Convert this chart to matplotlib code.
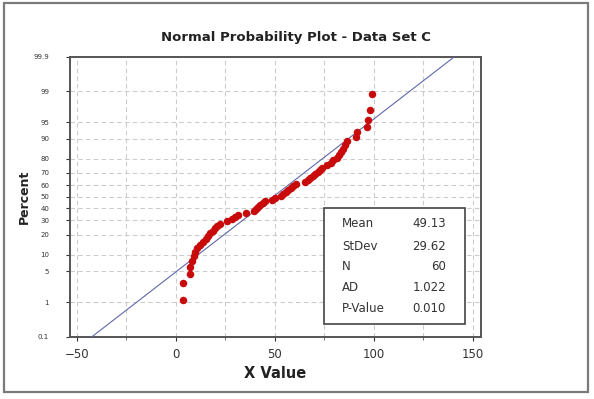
from statistics import NormalDist
import numpy as np
import matplotlib
matplotlib.use('Agg')
import matplotlib.pyplot as plt
from matplotlib.patches import Rectangle

x_values = [3.7, 3.7, 7.1, 7.2, 7.9, 8.9, 9.8, 10.8, 12.3, 13.6,
            15.0, 16.2, 17.3, 18.5, 19.7, 20.9, 22.2, 25.6, 28.1, 29.8,
            31.1, 35.2, 39.4, 40.4, 41.2, 42.4, 43.8, 45.0, 48.3, 50.0,
            52.9, 54.2, 55.4, 56.7, 57.9, 59.3, 60.4, 65.2, 66.5, 67.8,
            69.0, 70.3, 71.6, 73.0, 74.0, 76.5, 78.3, 79.5, 81.2, 82.3,
            83.3, 84.5, 85.4, 86.2, 90.9, 91.6, 96.3, 97.1, 98.0, 98.8]
# plotted percent (median ranks)
percents = [1.16, 2.81, 4.47, 6.13, 7.78, 9.44, 11.09, 12.75, 14.40, 16.06,
            17.72, 19.37, 21.03, 22.68, 24.34, 25.99, 27.65, 29.30, 30.96, 32.62,
            34.27, 35.93, 37.58, 39.24, 40.89, 42.55, 44.21, 45.86, 47.52, 49.17,
            50.83, 52.48, 54.14, 55.79, 57.45, 59.11, 60.76, 62.42, 64.07, 65.73,
            67.38, 69.04, 70.70, 72.35, 74.01, 75.66, 77.32, 78.97, 80.63, 82.28,
            83.94, 85.60, 87.25, 88.91, 90.56, 92.22, 93.87, 95.53, 97.19, 98.84]

stat_names = ['Mean', 'StDev', 'N', 'AD', 'P-Value']
stat_values = ['49.13', '29.62', '60', '1.022', '0.010']
fit_mean = 49.13
fit_sd = 29.62

y_ticks = [0.1, 1, 5, 10, 20, 30, 40, 50, 60, 70, 80, 90, 95, 99, 99.9]
y_tick_labels = ['0.1', '1', '5', '10', '20', '30', '40', '50', '60', '70',
                 '80', '90', '95', '99', '99.9']
x_ticks = [-50, 0, 50, 100, 150]
x_minor = [-25, 25, 75, 125]

nd = NormalDist()


def fwd(p):
    p = np.clip(np.asarray(p, dtype=float) / 100.0, 1e-9, 1 - 1e-9)
    return np.vectorize(nd.inv_cdf, otypes=[float])(p)


def inv(z):
    return np.vectorize(nd.cdf, otypes=[float])(np.asarray(z, dtype=float)) * 100.0


W, H = 594, 399
fig = plt.figure(figsize=(W / 100, H / 100), dpi=100)
fig.patch.set_facecolor('white')
# outer frame
fig.patches.append(Rectangle((4 / W, 1 - 392 / H), 584 / W, 389 / H, transform=fig.transFigure,
                             fill=False, edgecolor='#7a7a7a', lw=1.6))

ax = fig.add_axes([70 / W, 1 - 336.7 / H, 410.5 / W, 280 / H])
ax.set_yscale('function', functions=(fwd, inv))
ax.set_ylim(0.1, 99.9)
ax.set_xlim(-53.5, 153.8)

line_pct = np.array([0.1, 99.9])
line_x = fit_mean + fit_sd * fwd(line_pct)
ax.plot(line_x, line_pct, color='#6068a8', lw=0.8, zorder=3)
ax.plot(x_values, percents, 'o', color='#c80a0a', ms=5.4, mec='none', zorder=4)

ax.set_xticks(x_ticks)
ax.set_xticks(x_minor, minor=True)
ax.set_yticks(y_ticks)
ax.set_yticklabels(y_tick_labels)
ax.yaxis.set_minor_locator(matplotlib.ticker.NullLocator())
ax.tick_params(axis='x', which='major', labelsize=8.5, length=3, width=0.8, colors='#333333', pad=5)
ax.tick_params(axis='x', which='minor', length=2, width=0.6, colors='#555555')
ax.tick_params(axis='y', labelsize=5, length=3, width=0.8, colors='#333333', pad=12)

ax.grid(which='both', axis='x', ls=(0, (4, 3)), color='#cccccc', lw=0.8)
ax.grid(which='major', axis='y', ls=(0, (4, 3)), color='#cccccc', lw=0.8)
ax.set_axisbelow(True)
for s in ax.spines.values():
    s.set_color('#555555')
    s.set_linewidth(1.4)

ax.set_xlabel('X Value', fontsize=10.5, fontweight='bold', color='#222222', labelpad=4)
ax.set_ylabel('Percent', fontsize=9, fontweight='bold', color='#222222')
ax.yaxis.set_label_coords(-0.095, 0.5)
fig.text(296 / W, 1 - 37 / H, 'Normal Probability Plot - Data Set C', ha='center', va='center',
         fontsize=9.5, fontweight='bold', color='#222222')

# stats box
fig.patches.append(Rectangle((324 / W, 1 - 324 / H), 141 / W, 116 / H, transform=fig.transFigure,
                             facecolor='white', edgecolor='#444444', lw=1.2, zorder=5))
row_y = [223.3, 246.0, 267.0, 287.7, 308.3]
for name, val, ry in zip(stat_names, stat_values, row_y):
    fig.text(342 / W, 1 - ry / H, name, ha='left', va='center', fontsize=8.5, color='#333333', zorder=6)
    fig.text(446 / W, 1 - ry / H, val, ha='right', va='center', fontsize=8.5, color='#333333', zorder=6)

fig.savefig('out.png', dpi=100)
